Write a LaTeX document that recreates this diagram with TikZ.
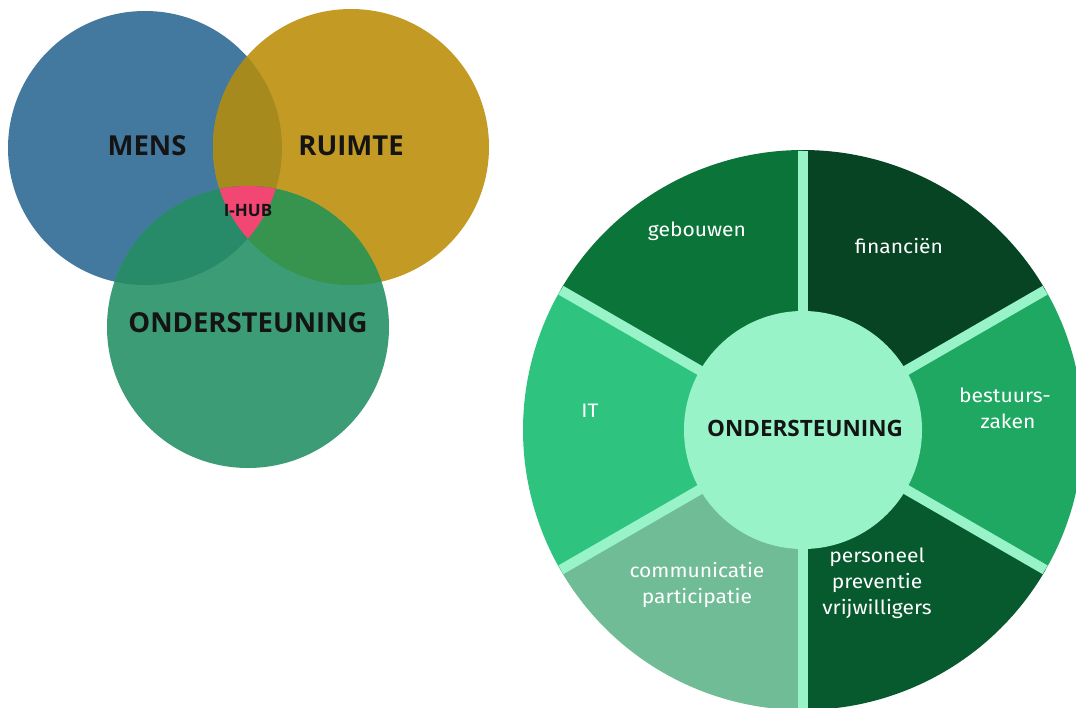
\documentclass[tikz,border=0pt]{standalone}
\usepackage{fontspec}
\setmainfont{Fira Sans}[FakeStretch=1.08]
\newfontfamily\titlefont{Open Sans}
\definecolor{vblue}{HTML}{43799F}
\definecolor{vgold}{HTML}{C39B24}
\definecolor{vbg}{HTML}{A78A1D}
\definecolor{vgreen}{HTML}{3B9C76}
\definecolor{vbgr}{HTML}{278B69}
\definecolor{vggr}{HTML}{36944F}
\definecolor{vpink}{HTML}{F24673}
\definecolor{mint}{HTML}{98F4C8}
\definecolor{sgeb}{HTML}{0B7539}
\definecolor{sfin}{HTML}{064424}
\definecolor{sbes}{HTML}{1FA862}
\definecolor{sper}{HTML}{075A2E}
\definecolor{scom}{HTML}{70BC96}
\definecolor{sit}{HTML}{2EC480}
\definecolor{txtdark}{HTML}{141414}
\tikzset{
  venntitle/.style={font=\titlefont\bfseries\fontsize{27.5}{32}\selectfont, text=txtdark, inner sep=0pt},
  hubtitle/.style={font=\titlefont\bfseries\fontsize{17}{20}\selectfont, text=txtdark, inner sep=0pt},
  pietitle/.style={font=\titlefont\bfseries\fontsize{22.5}{26}\selectfont, text=txtdark, inner sep=0pt},
  pielabel/.style={font=\fontsize{19.5}{26}\selectfont, text=white, align=center, inner sep=0pt},
  gapline/.style={draw=mint, line width=10pt}
}
\begin{document}
\begin{tikzpicture}[x=1pt,y=-1pt]
\useasboundingbox (0,0) rectangle (1076,707);
\clip (0,0) rectangle (1076,707);
\fill[white] (0,0) rectangle (1076,707);
% ---------------- Venn diagram ----------------
\coordinate (cm) at (145,148);
\coordinate (cr) at (351,147);
\coordinate (co) at (248,327);
\fill[vblue] (cm) circle[radius=137pt];
\fill[vgold] (cr) circle[radius=138pt];
\begin{scope}
  \clip (cm) circle[radius=137pt];
  \fill[vbg] (cr) circle[radius=138pt];
\end{scope}
\fill[vgreen] (co) circle[radius=141pt];
\begin{scope}
  \clip (co) circle[radius=141pt];
  \fill[vbgr] (cm) circle[radius=137pt];
  \fill[vggr] (cr) circle[radius=138pt];
  \clip (cm) circle[radius=137pt];
  \fill[vpink] (cr) circle[radius=138pt];
\end{scope}
\node[venntitle] (mens) at (147,146) {MENS};
\node[venntitle] (ruimte) at (351,146) {RUIMTE};
\node[venntitle] (onder) at (248,323) {ONDERSTEUNING};
\node[hubtitle] (hub) at (248,211) {I-HUB};
% ---------------- Pie ----------------
\coordinate (pc) at (803,430);
\fill[sgeb] (pc) -- ++(90:280pt) arc[start angle=90, end angle=150, radius=280pt] -- cycle;
\fill[sfin] (pc) -- ++(30:280pt) arc[start angle=30, end angle=90, radius=280pt] -- cycle;
\fill[sbes] (pc) -- ++(-30:280pt) arc[start angle=-30, end angle=30, radius=280pt] -- cycle;
\fill[sper] (pc) -- ++(-90:280pt) arc[start angle=-90, end angle=-30, radius=280pt] -- cycle;
\fill[scom] (pc) -- ++(210:280pt) arc[start angle=210, end angle=270, radius=280pt] -- cycle;
\fill[sit] (pc) -- ++(150:280pt) arc[start angle=150, end angle=210, radius=280pt] -- cycle;
\foreach \a in {30,90,150,210,270,330}{
  \draw[gapline] (pc) -- ++(\a:279.5pt);
}
\fill[mint] (pc) circle[radius=119pt];
\node[pietitle] (center) at (805,428) {ONDERSTEUNING};
\node[pielabel] (geb) at (697,231) {gebouwen};
\node[pielabel] (fin) at (899,246) {financiën};
\node[pielabel] (bes) at (1005,408) {bestuurs-\\\hspace*{6pt}zaken};
\node[pielabel] (it) at (590,411) {IT};
\node[pielabel] (com) at (697,585) {communicatie\\participatie};
\node[pielabel] (per) at (877,583) {personeel\\preventie\\vrijwilligers};
\end{tikzpicture}
\end{document}
